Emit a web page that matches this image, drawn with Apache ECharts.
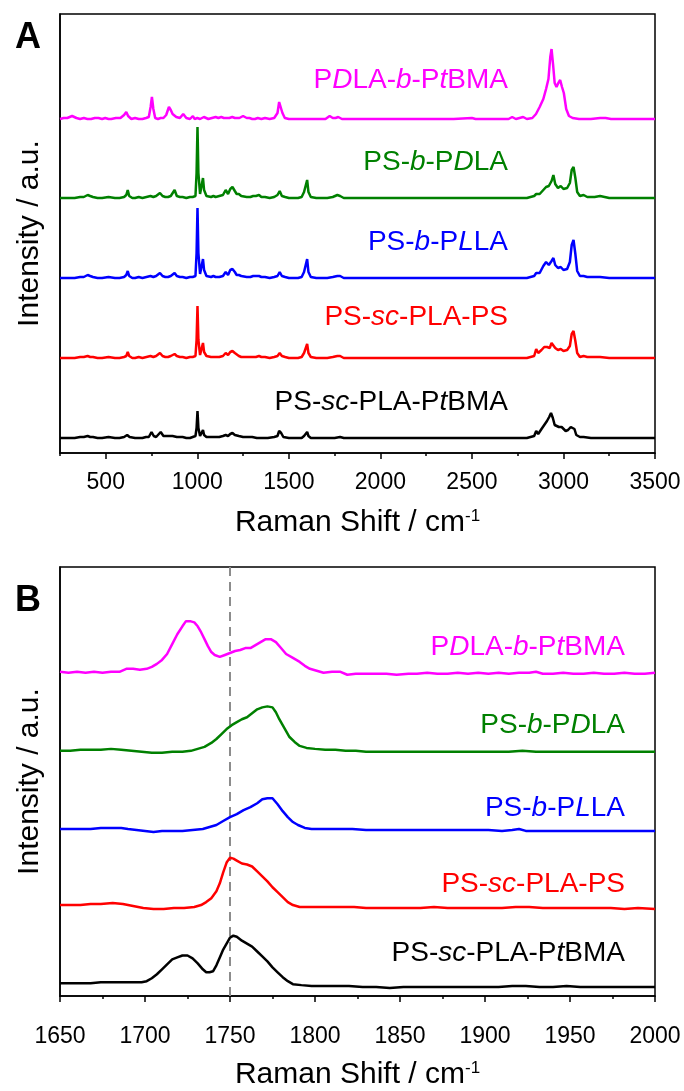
<!DOCTYPE html>
<html>
<head>
<meta charset="utf-8">
<script src="https://cdn.jsdelivr.net/npm/echarts@6/dist/echarts.min.js"></script>
<style>
  html, body { margin: 0; padding: 0; background: #fff; }
  #chart { width: 684px; height: 1091px; }
</style>
</head>
<body>
<div id="chart"></div>
<script>
// names, colours (top to bottom), *x* marks italic part
const names = ['P*D*LA-*b*-P*t*BMA', 'PS-*b*-P*D*LA', 'PS-*b*-P*L*LA', 'PS-*sc*-PLA-PS', 'PS-*sc*-PLA-P*t*BMA']
const colors = ['#ff00ff', '#008000', '#0000ff', '#ff0000', '#000000']
const majorTicksA = [500, 1000, 1500, 2000, 2500, 3000, 3500]

// panel A: full spectra, [shift, intensity]
const specA_pdla_ptbma = [[250,0],[270,1],[290,1],[316,3],[340,1],[360,0],[380,1],[400,0],[420,0],[440,1],[460,1],[480,0],[497,1],[515,0],[530,0],[555,1],[580,1],[600,4],[612,7],[622,3],[640,0],[660,1],[680,0],[700,0],[720,1],[735,2],[745,12],[752,22],[760,10],[770,1],[785,0],[800,1],[815,1],[830,4],[845,12],[855,9],[865,5],[873,7],[885,2],[895,1],[905,1],[923,5],[940,1],[960,0],[976,3],[985,0],[1000,1],[1015,0],[1036,2],[1060,0],[1080,1],[1100,2],[1115,1],[1131,2],[1145,1],[1160,1],[1175,1],[1191,2],[1205,1],[1215,1],[1230,1],[1250,3],[1270,1],[1285,1],[1300,0],[1315,0],[1330,1],[1350,0],[1370,1],[1395,0],[1420,1],[1438,6],[1447,17],[1455,15],[1465,6],[1478,1],[1500,0],[1550,0],[1600,0],[1650,0],[1700,0],[1723,3],[1740,1],[1755,1],[1770,2],[1790,0],[1850,0],[1900,0],[2000,0],[2100,0],[2200,0],[2300,0],[2400,0],[2500,1],[2520,0],[2600,0],[2700,0],[2720,2],[2740,0],[2760,1],[2780,2],[2800,0],[2830,1],[2850,5],[2870,12],[2890,20],[2905,30],[2918,40],[2928,62],[2935,70],[2943,55],[2952,36],[2962,32],[2972,36],[2982,39],[2992,32],[3002,26],[3015,10],[3030,3],[3050,1],[3085,0],[3150,0],[3200,1],[3230,1],[3260,0],[3300,0],[3400,0],[3500,0]]
const specA_ps_pdla = [[250,0],[275,0],[300,0],[330,0],[360,1],[380,1],[401,3],[415,2],[430,1],[455,0],[480,0],[515,1],[550,0],[575,0],[600,1],[612,3],[620,8],[628,2],[645,0],[660,0],[680,1],[700,0],[722,1],[744,2],[760,1],[775,2],[785,3],[796,5],[810,2],[825,1],[840,1],[855,2],[865,3],[876,8],[888,2],[905,1],[920,1],[940,0],[960,1],[975,1],[990,2],[996,25],[1001,71],[1006,25],[1015,4],[1024,6],[1031,20],[1037,8],[1050,2],[1059,3],[1075,1],[1088,2],[1100,1],[1120,2],[1140,3],[1155,8],[1168,4],[1180,9],[1192,11],[1205,7],[1215,4],[1227,4],[1240,2],[1250,1],[1270,1],[1290,1],[1305,2],[1320,2],[1337,3],[1350,1],[1370,1],[1395,0],[1420,1],[1438,3],[1450,7],[1462,2],[1480,1],[1500,0],[1530,0],[1550,0],[1570,1],[1583,6],[1590,7],[1600,18],[1607,6],[1620,1],[1650,0],[1680,0],[1710,0],[1740,1],[1750,1],[1765,3],[1780,2],[1800,0],[1900,0],[2000,0],[2200,0],[2400,0],[2600,0],[2800,0],[2840,2],[2851,4],[2870,4],[2890,8],[2905,11],[2920,12],[2935,17],[2945,23],[2955,14],[2970,10],[2985,12],[3000,9],[3020,10],[3035,15],[3045,28],[3055,31],[3065,20],[3075,6],[3090,2],[3110,3],[3130,1],[3170,1],[3200,2],[3250,0],[3300,0],[3400,0],[3500,0]]
const specA_ps_plla = [[250,0],[275,0],[300,0],[330,0],[360,1],[380,1],[401,3],[415,2],[430,1],[455,0],[480,0],[515,1],[550,0],[575,0],[600,1],[612,3],[620,7],[628,2],[645,0],[660,0],[680,1],[700,0],[722,1],[744,2],[760,1],[775,2],[785,3],[796,5],[810,2],[825,1],[840,1],[855,2],[865,3],[876,5],[888,2],[905,1],[920,1],[940,0],[960,1],[975,1],[990,2],[996,25],[1001,70],[1006,25],[1015,4],[1024,6],[1031,19],[1037,8],[1050,2],[1059,3],[1075,1],[1088,2],[1100,1],[1120,1],[1140,2],[1155,6],[1168,3],[1180,8],[1192,9],[1205,6],[1215,3],[1227,3],[1240,2],[1250,1],[1270,1],[1290,1],[1305,2],[1320,2],[1337,2],[1350,1],[1370,1],[1395,0],[1420,1],[1438,2],[1450,6],[1462,2],[1480,1],[1500,0],[1530,0],[1550,0],[1570,1],[1583,6],[1590,7],[1600,19],[1607,6],[1620,1],[1650,0],[1680,0],[1710,0],[1740,1],[1750,1],[1765,2],[1780,2],[1800,0],[1900,0],[2000,0],[2200,0],[2400,0],[2600,0],[2800,0],[2840,2],[2851,5],[2870,5],[2890,12],[2905,16],[2920,13],[2935,17],[2945,20],[2955,13],[2970,10],[2985,11],[3000,8],[3020,9],[3035,16],[3045,33],[3055,38],[3065,24],[3075,7],[3090,2],[3110,2],[3130,1],[3170,1],[3200,1],[3250,0],[3300,0],[3400,0],[3500,0]]
const specA_ps_pla_ps = [[250,0],[275,0],[300,0],[330,0],[360,1],[380,1],[401,2],[415,1],[430,1],[455,0],[480,0],[515,1],[550,0],[575,0],[600,1],[612,2],[620,6],[628,2],[645,0],[660,0],[680,1],[700,0],[722,1],[744,2],[760,1],[775,2],[785,3],[796,5],[810,2],[825,1],[840,1],[855,2],[865,2],[876,4],[888,2],[905,1],[920,1],[940,0],[960,1],[975,1],[990,2],[996,18],[1001,52],[1006,18],[1015,3],[1024,5],[1031,15],[1037,6],[1050,2],[1059,2],[1075,1],[1088,1],[1100,1],[1120,1],[1140,2],[1155,5],[1168,3],[1180,6],[1192,7],[1205,5],[1215,3],[1227,2],[1240,1],[1250,1],[1270,1],[1290,1],[1305,1],[1320,1],[1337,2],[1350,1],[1370,1],[1395,0],[1420,1],[1438,2],[1450,5],[1462,2],[1480,1],[1500,0],[1530,0],[1550,0],[1570,1],[1583,5],[1590,6],[1600,14],[1607,5],[1620,1],[1650,0],[1680,0],[1710,0],[1740,1],[1750,1],[1765,2],[1780,2],[1800,0],[1900,0],[2000,0],[2200,0],[2400,0],[2600,0],[2800,0],[2840,2],[2851,9],[2862,5],[2880,8],[2895,11],[2910,11],[2925,10],[2935,15],[2945,17],[2955,10],[2970,8],[2985,9],[3000,7],[3020,8],[3035,12],[3045,24],[3055,27],[3065,17],[3075,5],[3090,1],[3110,2],[3130,1],[3170,1],[3200,1],[3250,0],[3300,0],[3400,0],[3500,0]]
const specA_ps_pla_ptbma = [[250,0],[275,0],[300,0],[330,0],[360,1],[380,1],[401,2],[415,1],[430,1],[455,0],[480,0],[515,1],[550,0],[575,0],[600,1],[617,3],[630,1],[660,0],[700,0],[720,1],[735,1],[750,6],[762,2],[775,1],[785,2],[800,6],[815,2],[830,2],[840,4],[850,2],[865,2],[873,4],[888,1],[905,1],[920,1],[940,0],[960,0],[975,1],[990,2],[996,10],[1001,27],[1006,10],[1015,2],[1024,3],[1031,8],[1037,3],[1050,1],[1075,1],[1100,1],[1120,1],[1140,2],[1155,3],[1168,2],[1180,4],[1192,5],[1205,3],[1227,2],[1250,1],[1275,1],[1300,1],[1325,0],[1350,0],[1385,0],[1420,1],[1438,2],[1447,7],[1458,5],[1470,1],[1500,0],[1540,0],[1570,0],[1583,2],[1590,3],[1600,6],[1607,2],[1620,0],[1650,0],[1680,0],[1750,0],[1780,1],[1800,0],[1900,0],[2000,0],[2200,0],[2400,0],[2600,0],[2800,0],[2840,2],[2851,7],[2862,4],[2880,9],[2895,13],[2910,17],[2922,21],[2932,25],[2942,20],[2952,13],[2962,12],[2975,11],[2990,11],[3000,9],[3012,7],[3025,8],[3040,11],[3050,13],[3060,9],[3070,3],[3090,1],[3110,1],[3150,0],[3200,0],[3300,0],[3400,0],[3500,0]]

// panel B: C=O region, [shift, intensity]
const specB_pdla_ptbma = [[1650,0],[1655,-1],[1660,0],[1665,-1],[1670,0],[1675,-1],[1680,0],[1685,0],[1689,3],[1693,3],[1697,2],[1701,3],[1704,5],[1707,8],[1710,12],[1713,18],[1716,28],[1719,38],[1722,46],[1724,51],[1727,51],[1729,50],[1731,46],[1733,40],[1735,33],[1737,26],[1739,20],[1741,17],[1744,15],[1747,17],[1750,19],[1753,21],[1756,22],[1759,24],[1762,24],[1765,27],[1768,30],[1771,33],[1774,33],[1777,30],[1780,24],[1783,18],[1787,14],[1791,10],[1794,6],[1797,3],[1801,1],[1805,-1],[1810,0],[1815,0],[1819,-3],[1824,-2],[1830,-2],[1836,-2],[1842,-2],[1848,-3],[1855,-2],[1860,-2],[1866,-1],[1872,-2],[1878,-2],[1884,-1],[1890,-2],[1896,-1],[1902,-2],[1908,-1],[1914,-2],[1920,-1],[1926,-1],[1930,0],[1934,-2],[1940,-2],[1946,-1],[1952,-2],[1958,-2],[1964,-1],[1970,-2],[1976,-2],[1982,-1],[1988,-2],[1994,-2],[2000,-1]]
const specB_ps_pdla = [[1650,0],[1656,0],[1662,1],[1668,1],[1674,1],[1680,2],[1686,1],[1692,0],[1698,-1],[1704,-2],[1710,-2],[1716,-1],[1722,-1],[1727,0],[1731,2],[1735,4],[1739,8],[1742,12],[1745,17],[1748,22],[1751,26],[1754,29],[1757,32],[1760,34],[1763,38],[1766,42],[1769,44],[1772,45],[1775,44],[1777,39],[1779,32],[1781,26],[1783,20],[1785,14],[1788,9],[1791,5],[1795,3],[1800,2],[1806,1],[1812,1],[1818,0],[1824,0],[1830,-1],[1836,-1],[1842,-1],[1850,-1],[1858,-1],[1866,-1],[1874,-1],[1882,-1],[1890,-1],[1898,-1],[1906,-1],[1914,-1],[1922,0],[1930,-1],[1938,-1],[1946,-1],[1954,-1],[1962,-1],[1970,-1],[1978,-1],[1986,-1],[1994,-1],[2000,-1]]
const specB_ps_plla = [[1650,0],[1656,0],[1662,0],[1668,0],[1674,1],[1680,1],[1686,1],[1690,0],[1695,-1],[1700,-2],[1705,-3],[1710,-2],[1716,-2],[1722,-2],[1728,-1],[1734,0],[1738,2],[1742,4],[1746,8],[1750,12],[1754,15],[1758,19],[1762,22],[1766,26],[1769,30],[1772,31],[1775,31],[1778,25],[1781,18],[1784,12],[1787,7],[1790,4],[1794,1],[1798,0],[1804,0],[1810,0],[1816,0],[1822,0],[1830,-1],[1838,-1],[1846,-1],[1854,-1],[1862,-1],[1870,-1],[1878,-1],[1886,-1],[1894,-1],[1902,-1],[1910,-2],[1916,-1],[1920,0],[1924,-2],[1932,-2],[1940,-2],[1948,-2],[1956,-2],[1964,-2],[1972,-2],[1980,-2],[1988,-2],[1994,-2],[2000,-2]]
const specB_ps_pla_ps = [[1650,0],[1656,0],[1662,0],[1668,1],[1674,1],[1681,2],[1687,1],[1693,-1],[1699,-3],[1705,-4],[1711,-4],[1717,-3],[1723,-3],[1729,-2],[1733,0],[1736,3],[1739,7],[1742,14],[1744,22],[1746,33],[1748,43],[1750,48],[1752,47],[1754,45],[1757,42],[1760,41],[1763,39],[1766,34],[1769,29],[1772,24],[1775,18],[1778,13],[1781,8],[1784,3],[1787,0],[1791,-2],[1797,-2],[1803,-2],[1810,-2],[1817,-2],[1823,-2],[1830,-3],[1838,-3],[1846,-3],[1854,-3],[1862,-3],[1870,-2],[1878,-3],[1886,-3],[1894,-3],[1902,-3],[1910,-3],[1918,-2],[1926,-2],[1934,-3],[1942,-3],[1950,-3],[1958,-3],[1966,-3],[1974,-3],[1982,-4],[1990,-3],[2000,-4]]
const specB_ps_pla_ptbma = [[1650,0],[1656,0],[1662,0],[1668,0],[1674,1],[1680,1],[1686,1],[1692,1],[1698,1],[1701,2],[1704,5],[1707,9],[1710,14],[1713,19],[1716,24],[1719,26],[1722,28],[1725,28],[1728,25],[1731,20],[1734,14],[1736,11],[1738,11],[1740,12],[1742,18],[1744,26],[1746,34],[1748,40],[1750,46],[1752,48],[1754,47],[1757,43],[1760,40],[1763,37],[1766,32],[1769,27],[1772,22],[1775,16],[1778,11],[1781,6],[1784,2],[1787,-1],[1792,-2],[1798,-3],[1805,-3],[1812,-3],[1820,-3],[1828,-4],[1836,-4],[1844,-5],[1852,-4],[1860,-4],[1868,-4],[1876,-4],[1884,-4],[1892,-4],[1900,-4],[1908,-4],[1916,-3],[1924,-3],[1932,-4],[1940,-4],[1948,-3],[1956,-4],[1964,-4],[1972,-4],[1980,-4],[1988,-4],[1994,-4],[2000,-4]]

const specsA = [specA_pdla_ptbma, specA_ps_pdla, specA_ps_plla, specA_ps_pla_ps, specA_ps_pla_ptbma]
const specsB = [specB_pdla_ptbma, specB_ps_pdla, specB_ps_plla, specB_ps_pla_ps, specB_ps_pla_ptbma]
const offsetsA = [334, 255, 175, 95, 15]
const offsetsB = [328, 248, 169, 92, 13]
const refLine = 1750

const font = 'Liberation Sans, Arial, sans-serif'

const richFor = (color) => ({
  n: { fontSize: 28, fontFamily: font, fill: color, color: color },
  i: { fontSize: 28, fontFamily: font, fill: color, color: color, fontStyle: 'italic' }
})
const toRich = (s) => s.split('*').map((p, k) => p ? `{${k % 2 ? 'i' : 'n'}|${p}}` : '').join('')

const labelsA_y = [80, 162, 242, 317, 402]
const labelsB_y = [647, 725, 808, 884, 953]

const chart = echarts.init(document.getElementById('chart'))

const tickStyle = { color: '#000', width: 1.5 }
const axisName = {
  name: 'Raman Shift / cm{sup|-1}',
  nameLocation: 'middle',
  nameTextStyle: { color: '#000', fontSize: 30, fontFamily: font,
    rich: { sup: { fontSize: 17, fontFamily: font, color: '#000', verticalAlign: 'top' } } }
}

const xAxes = [
  // panel A, minor ticks every 250, labels every 500
  Object.assign({
    type: 'value', gridIndex: 0, min: 250, max: 3500, interval: 250,
    axisLine: { onZero: false, lineStyle: tickStyle },
    axisTick: { length: 3, lineStyle: tickStyle },
    splitLine: { show: false },
    axisLabel: { color: '#000', fontSize: 23, fontFamily: font, margin: 18,
      formatter: v => (majorTicksA.includes(v) ? String(v) : '') },
    nameGap: 55
  }, axisName),
  // panel B
  Object.assign({
    type: 'value', gridIndex: 1, min: 1650, max: 2000, interval: 50,
    axisLine: { onZero: false, lineStyle: tickStyle },
    axisTick: { length: 6, lineStyle: tickStyle },
    minorTick: { show: true, splitNumber: 2, length: 3, lineStyle: tickStyle },
    splitLine: { show: false },
    axisLabel: { color: '#000', fontSize: 23, fontFamily: font, margin: 29, formatter: v => String(v) },
    nameGap: 64
  }, axisName),
  // panel A, long major ticks overlay
  {
    type: 'value', gridIndex: 0, position: 'bottom', min: 250, max: 3500, interval: 250,
    axisLine: { show: false, onZero: false },
    axisTick: { length: 6, lineStyle: tickStyle, customValues: majorTicksA },
    axisLabel: { show: false },
    splitLine: { show: false }
  }
]

const makeY = (gridIndex, max) => ({
  type: 'value', gridIndex, min: 0, max,
  axisLine: { show: true, lineStyle: tickStyle },
  axisTick: { show: false },
  axisLabel: { show: false },
  splitLine: { show: false },
  name: 'Intensity / a.u.',
  nameLocation: 'middle',
  nameGap: 15,
  nameTextStyle: { color: '#000', fontSize: 30, fontFamily: font }
})

const series = []
specsA.forEach((spec, k) => {
  series.push({
    type: 'line', xAxisIndex: 0, yAxisIndex: 0, showSymbol: false, animation: false,
    data: spec.map(p => [p[0], p[1] + offsetsA[k]]),
    lineStyle: { color: colors[k], width: 2.5 }, z: 10 - k
  })
})
specsB.forEach((spec, k) => {
  series.push({
    type: 'line', xAxisIndex: 1, yAxisIndex: 1, showSymbol: false, animation: false,
    data: spec.map(p => [p[0], p[1] + offsetsB[k]]),
    lineStyle: { color: colors[k], width: 2.5 }, z: 10 - k,
    markLine: k === 0 ? {
      silent: true, symbol: 'none', animation: false,
      label: { show: false },
      lineStyle: { color: '#8c8c8c', type: [9, 6], width: 2 },
      data: [{ xAxis: refLine }]
    } : undefined
  })
})

const graphic = []
names.forEach((nm, k) => {
  graphic.push({ type: 'text', x: 508, y: labelsA_y[k], z: 100,
    style: { text: toRich(nm), rich: richFor(colors[k]), fill: colors[k], font: `28px ${font}`, align: 'right', verticalAlign: 'middle' } })
  graphic.push({ type: 'text', x: 625, y: labelsB_y[k], z: 100,
    style: { text: toRich(nm), rich: richFor(colors[k]), fill: colors[k], font: `28px ${font}`, align: 'right', verticalAlign: 'middle' } })
})
graphic.push({ type: 'text', x: 28, y: 38, style: { text: 'A', fill: '#000', font: `bold 36px ${font}`, align: 'center', verticalAlign: 'middle' } })
graphic.push({ type: 'text', x: 28, y: 601, style: { text: 'B', fill: '#000', font: `bold 36px ${font}`, align: 'center', verticalAlign: 'middle' } })

const option = {
  animation: false,
  backgroundColor: '#fff',
  grid: [
    { left: 60, width: 595, top: 14, height: 439, show: true, borderColor: '#000', borderWidth: 1.5 },
    { left: 60, width: 595, top: 567, height: 434, show: true, borderColor: '#000', borderWidth: 1.5 }
  ],
  xAxis: xAxes,
  yAxis: [makeY(0, 439), makeY(1, 434)],
  series,
  graphic
}

option && chart.setOption(option)
</script>
</body>
</html>
